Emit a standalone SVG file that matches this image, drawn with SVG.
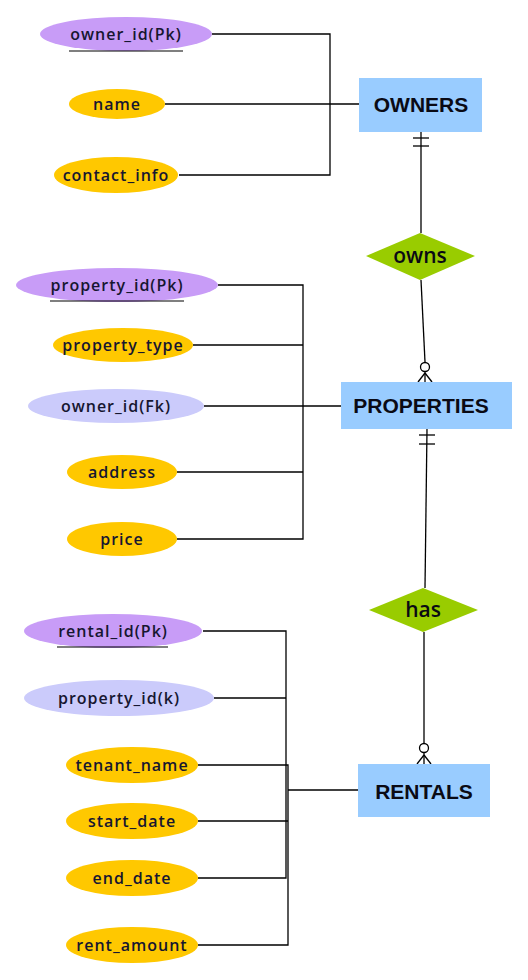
<svg xmlns="http://www.w3.org/2000/svg" width="528" height="980" viewBox="0 0 528 980">
<style>
.attr{font-family:"Open Sans","Liberation Sans",sans-serif;font-size:16px;font-weight:600;letter-spacing:1px;fill:#161630;text-anchor:middle;dominant-baseline:central}
.ent{font-family:"Liberation Sans",Arial,sans-serif;font-size:21px;font-weight:bold;fill:#0a0a14;text-anchor:middle;dominant-baseline:central}
.rel{font-family:"Open Sans","Liberation Sans",sans-serif;font-size:21px;font-weight:600;fill:#0a0a14;text-anchor:middle;dominant-baseline:central}
.pk{fill:#c89cf7}
.fk{fill:#cbcbfb}
.at{fill:#ffc800}
.box{fill:#99ccff}
.dia{fill:#99cc00}
.ln{stroke:#000;stroke-width:1.3;fill:none}
.ul{stroke:#000;stroke-width:1.2}
</style>
<g id="connectors" class="ln">
<polyline points="212,34 330,34 330,175 179,175"/>
<line x1="165" y1="104" x2="359" y2="104"/>
<polyline points="218,285 303,285 303,539 177,539"/>
<line x1="193" y1="345" x2="303" y2="345"/>
<line x1="204" y1="406" x2="341" y2="406"/>
<line x1="177" y1="472" x2="303" y2="472"/>
<polyline points="203,631 286,631 286,878 198,878"/>
<line x1="214" y1="698" x2="286" y2="698"/>
<polyline points="198,765 288,765 288,945 198,945"/>
<line x1="198" y1="821" x2="288" y2="821"/>
<line x1="288" y1="790" x2="358" y2="790"/>
<line x1="421" y1="132" x2="421" y2="233"/>
<line x1="413" y1="138" x2="429" y2="138"/>
<line x1="413" y1="146" x2="429" y2="146"/>
<line x1="421" y1="280" x2="425" y2="362"/>
<circle cx="425" cy="367" r="4.5" fill="#fff"/>
<line x1="425" y1="372" x2="425" y2="382"/>
<line x1="425" y1="373" x2="418" y2="382"/>
<line x1="425" y1="373" x2="432" y2="382"/>
<line x1="427" y1="429" x2="425" y2="588"/>
<line x1="419" y1="435" x2="435" y2="435"/>
<line x1="419" y1="444" x2="435" y2="444"/>
<line x1="424" y1="632" x2="424" y2="743"/>
<circle cx="424" cy="748" r="4.5" fill="#fff"/>
<line x1="424" y1="753" x2="424" y2="764"/>
<line x1="424" y1="755" x2="417" y2="764"/>
<line x1="424" y1="755" x2="431" y2="764"/>
</g>
<g id="owner_id_pk"><ellipse class="pk" cx="126" cy="34" rx="86" ry="17"/><text class="attr" x="126" y="34">owner_id(Pk)</text><line class="ul" x1="69" y1="51" x2="183" y2="51"/></g>
<g id="owner_name"><ellipse class="at" cx="117" cy="104" rx="48" ry="15"/><text class="attr" x="117" y="104">name</text></g>
<g id="owner_contact_info"><ellipse class="at" cx="116" cy="175" rx="62" ry="18"/><text class="attr" x="116" y="175">contact_info</text></g>
<g id="owners"><rect class="box" x="359" y="78" width="123" height="54"/><text class="ent" x="421" y="104">OWNERS</text></g>
<g id="owns"><polygon class="dia" points="420,233 475,256 420,280 366,256"/><text class="rel" x="420" y="255">owns</text></g>
<g id="property_id_pk"><ellipse class="pk" cx="117" cy="285" rx="101" ry="17"/><text class="attr" x="117" y="285">property_id(Pk)</text><line class="ul" x1="50" y1="301" x2="184" y2="301"/></g>
<g id="property_type"><ellipse class="at" cx="123" cy="345" rx="70" ry="17"/><text class="attr" x="123" y="345">property_type</text></g>
<g id="owner_id_fk"><ellipse class="fk" cx="116" cy="406" rx="88" ry="17"/><text class="attr" x="116" y="406">owner_id(Fk)</text></g>
<g id="property_address"><ellipse class="at" cx="122" cy="472" rx="55" ry="17"/><text class="attr" x="122" y="472">address</text></g>
<g id="property_price"><ellipse class="at" cx="122" cy="539" rx="55" ry="17"/><text class="attr" x="122" y="539">price</text></g>
<g id="properties"><rect class="box" x="341" y="382" width="171" height="47"/><text class="ent" x="421" y="405">PROPERTIES</text></g>
<g id="has"><polygon class="dia" points="423,588 478,610 423,632 369,610"/><text class="rel" x="423" y="609">has</text></g>
<g id="rental_id_pk"><ellipse class="pk" cx="113" cy="631" rx="89" ry="17"/><text class="attr" x="113" y="631">rental_id(Pk)</text><line class="ul" x1="57" y1="647" x2="168" y2="647"/></g>
<g id="property_id_k"><ellipse class="fk" cx="119" cy="698" rx="95" ry="18"/><text class="attr" x="119" y="698">property_id(k)</text></g>
<g id="tenant_name"><ellipse class="at" cx="132" cy="765" rx="66" ry="18"/><text class="attr" x="132" y="765">tenant_name</text></g>
<g id="start_date"><ellipse class="at" cx="132" cy="821" rx="66" ry="18"/><text class="attr" x="132" y="821">start_date</text></g>
<g id="end_date"><ellipse class="at" cx="132" cy="878" rx="66" ry="18"/><text class="attr" x="132" y="878">end_date</text></g>
<g id="rent_amount"><ellipse class="at" cx="132" cy="945" rx="66" ry="18"/><text class="attr" x="132" y="945">rent_amount</text></g>
<g id="rentals"><rect class="box" x="358" y="764" width="132" height="53"/><text class="ent" x="424" y="791">RENTALS</text></g>
</svg>
